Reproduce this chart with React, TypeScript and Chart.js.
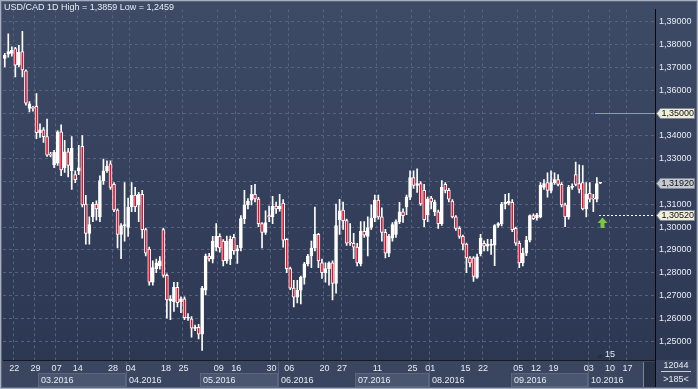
import React, { useEffect, useRef } from 'react';
import { Chart, registerables } from 'chart.js';

Chart.register(...registerables);

const TITLE = 'USD/CAD 1D High = 1,3859 Low = 1,2459';
const SLOT_COUNT = 185;

const OPEN = [
  1.3740, 1.3758, 1.3762, 1.3783, 1.3712, 1.3770, 1.3685, 1.3520, 1.3525, 1.3530,
  1.3414, 1.3427, 1.3397, 1.3320, 1.3273, 1.3280, 1.3418, 1.3260, 1.3330, 1.3247,
  1.3230, 1.3247, 1.3354, 1.3101, 1.2972, 1.3045, 1.3101, 1.3045, 1.3204, 1.3247,
  1.3277, 1.3187, 1.3075, 1.2968, 1.3005, 1.2998, 1.3088, 1.3140, 1.3097, 1.3144,
  1.2989, 1.2903, 1.2758, 1.2818, 1.2830, 1.2989, 1.2788, 1.2677, 1.2673, 1.2736,
  1.2673, 1.2685, 1.2600, 1.2598, 1.2555, 1.2560, 1.2530, 1.2723, 1.2873, 1.2860,
  1.2912, 1.2959, 1.2938, 1.2852, 1.2860, 1.2955, 1.2895, 1.2908, 1.3037, 1.3097,
  1.3118, 1.3144, 1.3123, 1.3015, 1.2977, 1.3050, 1.3045, 1.3092, 1.3080, 1.3105,
  1.2946, 1.2818, 1.2732, 1.2693, 1.2723, 1.2779, 1.2839, 1.2873, 1.2908, 1.2968,
  1.2843, 1.2800, 1.2818, 1.2843, 1.2753, 1.3032, 1.3075, 1.3028, 1.2933, 1.2929,
  1.2912, 1.2839, 1.2981, 1.2959, 1.2998, 1.3041, 1.3118, 1.3045, 1.2977, 1.2886,
  1.2951, 1.2968, 1.3024, 1.3067, 1.3088, 1.3131, 1.3217, 1.3183, 1.3191, 1.3161,
  1.3054, 1.3127, 1.3067, 1.3067, 1.3015, 1.3187, 1.3161, 1.3114, 1.3045, 1.2994,
  1.2959, 1.2925, 1.2865, 1.2865, 1.2779, 1.2882, 1.2929, 1.2916, 1.2920, 1.2921,
  1.3007, 1.3015, 1.3101, 1.3105, 1.3109, 1.2994, 1.2929, 1.2843, 1.2886, 1.2942,
  1.3050, 1.3040, 1.3045, 1.3174, 1.3195, 1.3161, 1.3195, 1.3208, 1.3187, 1.3097,
  1.3045, 1.3174, 1.3230, 1.3191, 1.3195, 1.3080, 1.3148, 1.3127, 1.3122, 1.3192,
];

const HIGH = [
  1.3762, 1.3848, 1.3790, 1.3788, 1.3797, 1.3859, 1.3690, 1.3550, 1.3530, 1.3586,
  1.3453, 1.3436, 1.3474, 1.3328, 1.3337, 1.3423, 1.3448, 1.3380, 1.3345, 1.3397,
  1.3247, 1.3358, 1.3401, 1.3139, 1.3045, 1.3109, 1.3115, 1.3225, 1.3298, 1.3290,
  1.3290, 1.3195, 1.3080, 1.3015, 1.3195, 1.3127, 1.3195, 1.3174, 1.3152, 1.3161,
  1.2995, 1.2912, 1.2852, 1.2860, 1.2870, 1.2995, 1.2795, 1.2700, 1.2758, 1.2758,
  1.2694, 1.2694, 1.2620, 1.2607, 1.2570, 1.2573, 1.2740, 1.2882, 1.2885, 1.2959,
  1.3015, 1.2970, 1.2945, 1.2960, 1.2960, 1.2968, 1.2920, 1.3050, 1.3161, 1.3125,
  1.3183, 1.3187, 1.3130, 1.3020, 1.3071, 1.3092, 1.3135, 1.3110, 1.3144, 1.3120,
  1.2950, 1.2825, 1.2766, 1.2766, 1.2785, 1.2845, 1.2880, 1.2938, 1.3088, 1.2972,
  1.2860, 1.2843, 1.2848, 1.2852, 1.3101, 1.3122, 1.3110, 1.3035, 1.3015, 1.2972,
  1.2929, 1.3024, 1.3024, 1.3045, 1.3097, 1.3140, 1.3140, 1.3084, 1.2990, 1.2968,
  1.3020, 1.3032, 1.3109, 1.3080, 1.3140, 1.3247, 1.3247, 1.3255, 1.3200, 1.3187,
  1.3131, 1.3135, 1.3118, 1.3075, 1.3204, 1.3195, 1.3170, 1.3120, 1.3050, 1.3002,
  1.2965, 1.2930, 1.2870, 1.2870, 1.2882, 1.2968, 1.2940, 1.2946, 1.2946, 1.3011,
  1.3020, 1.3109, 1.3144, 1.3148, 1.3120, 1.3000, 1.2938, 1.2908, 1.2959, 1.3054,
  1.3058, 1.3060, 1.3195, 1.3208, 1.3238, 1.3247, 1.3238, 1.3230, 1.3195, 1.3105,
  1.3183, 1.3190, 1.3285, 1.3273, 1.3270, 1.3195, 1.3195, 1.3144, 1.3217, 1.3195,
];

const LOW = [
  1.3702, 1.3745, 1.3750, 1.3659, 1.3702, 1.3659, 1.3535, 1.3505, 1.3508, 1.3388,
  1.3393, 1.3371, 1.3310, 1.3308, 1.3260, 1.3270, 1.3225, 1.3240, 1.3220, 1.3165,
  1.3195, 1.3230, 1.3088, 1.2925, 1.2925, 1.3024, 1.3030, 1.3024, 1.3187, 1.3240,
  1.3165, 1.3067, 1.2908, 1.2861, 1.2938, 1.2959, 1.3067, 1.3067, 1.3024, 1.2951,
  1.2873, 1.2745, 1.2745, 1.2800, 1.2815, 1.2780, 1.2600, 1.2594, 1.2630, 1.2650,
  1.2625, 1.2594, 1.2590, 1.2517, 1.2545, 1.2509, 1.2459, 1.2702, 1.2850, 1.2843,
  1.2895, 1.2890, 1.2830, 1.2840, 1.2835, 1.2880, 1.2840, 1.2895, 1.3015, 1.3080,
  1.3097, 1.3110, 1.3002, 1.2908, 1.2968, 1.3024, 1.3015, 1.3060, 1.3070, 1.2912,
  1.2800, 1.2725, 1.2650, 1.2667, 1.2663, 1.2749, 1.2830, 1.2822, 1.2895, 1.2822,
  1.2775, 1.2758, 1.2745, 1.2680, 1.2710, 1.2968, 1.2990, 1.2920, 1.2920, 1.2861,
  1.2830, 1.2830, 1.2955, 1.2873, 1.2990, 1.3024, 1.3035, 1.2938, 1.2865, 1.2870,
  1.2938, 1.2955, 1.3015, 1.3020, 1.3054, 1.3120, 1.3170, 1.3152, 1.3095, 1.3002,
  1.3024, 1.3080, 1.3050, 1.2994, 1.3007, 1.3150, 1.3110, 1.3040, 1.2985, 1.2950,
  1.2900, 1.2800, 1.2825, 1.2762, 1.2775, 1.2873, 1.2895, 1.2895, 1.2880, 1.2831,
  1.2998, 1.3005, 1.3080, 1.3097, 1.2980, 1.2920, 1.2822, 1.2830, 1.2875, 1.2935,
  1.3032, 1.3030, 1.3040, 1.3165, 1.3131, 1.3150, 1.3187, 1.3180, 1.3088, 1.3002,
  1.3035, 1.3165, 1.3180, 1.3150, 1.3075, 1.3045, 1.3110, 1.3067, 1.3110, 1.3190,
];

const CLOSE = [
  1.3753, 1.3770, 1.3775, 1.3710, 1.3766, 1.3689, 1.3543, 1.3540, 1.3520, 1.3414,
  1.3427, 1.3397, 1.3315, 1.3315, 1.3328, 1.3418, 1.3251, 1.3330, 1.3270, 1.3345,
  1.3208, 1.3260, 1.3097, 1.2972, 1.3011, 1.3101, 1.3080, 1.3204, 1.3247, 1.3268,
  1.3174, 1.3075, 1.2968, 1.3007, 1.3011, 1.3088, 1.3140, 1.3088, 1.3144, 1.2989,
  1.2886, 1.2758, 1.2822, 1.2843, 1.2852, 1.2788, 1.2680, 1.2685, 1.2736, 1.2668,
  1.2685, 1.2603, 1.2605, 1.2556, 1.2560, 1.2530, 1.2732, 1.2873, 1.2860, 1.2938,
  1.2959, 1.2908, 1.2852, 1.2938, 1.2946, 1.2895, 1.2905, 1.3037, 1.3097, 1.3114,
  1.3144, 1.3123, 1.3015, 1.2977, 1.3020, 1.3045, 1.3092, 1.3080, 1.3092, 1.2942,
  1.2818, 1.2732, 1.2693, 1.2723, 1.2779, 1.2839, 1.2873, 1.2908, 1.2968, 1.2852,
  1.2800, 1.2818, 1.2843, 1.2753, 1.3007, 1.3071, 1.3028, 1.2929, 1.2929, 1.2912,
  1.2843, 1.2981, 1.2964, 1.2998, 1.3041, 1.3118, 1.3045, 1.2977, 1.2886, 1.2959,
  1.3011, 1.3024, 1.3067, 1.3050, 1.3131, 1.3217, 1.3183, 1.3191, 1.3101, 1.3032,
  1.3123, 1.3110, 1.3110, 1.3015, 1.3174, 1.3161, 1.3122, 1.3045, 1.2994, 1.2959,
  1.2925, 1.2865, 1.2843, 1.2783, 1.2869, 1.2951, 1.2916, 1.2925, 1.2925, 1.3007,
  1.3015, 1.3101, 1.3109, 1.3114, 1.2989, 1.2929, 1.2843, 1.2886, 1.2942, 1.3050,
  1.3037, 1.3052, 1.3183, 1.3191, 1.3161, 1.3195, 1.3208, 1.3187, 1.3097, 1.3045,
  1.3174, 1.3180, 1.3187, 1.3165, 1.3080, 1.3144, 1.3122, 1.3122, 1.3191, 1.3192,
];

const DAY_TICK_INDEX = [3, 9, 15, 21, 31, 36, 46, 51, 61, 66, 76, 81, 91, 96, 106, 116, 121, 131, 136, 146, 151, 156, 166, 172, 177];
const DAY_TICK_LABELS = ['22', '29', '07', '14', '28', '04', '18', '25', '09', '16', '30', '06', '20', '27', '11', '25', '01', '15', '22', '05', '12', '19', '03', '10', '17'];
const MONTH_START_INDEX = [10, 35, 56, 78, 100, 121, 144, 166];
const MONTH_LABELS = ['03.2016', '04.2016', '05.2016', '06.2016', '07.2016', '08.2016', '09.2016', '10.2016'];
const Y_TICKS = [1.25, 1.26, 1.27, 1.28, 1.29, 1.3, 1.31, 1.32, 1.33, 1.34, 1.35, 1.36, 1.37, 1.38, 1.39];
const Y_MIN = 1.24169;
const Y_MAX = 1.39547;
const LAST_PRICE = 1.3192;
const ALERT_LEVEL = 1.35;
const SIGNAL_LEVEL = 1.3052;
const BAR_COUNT_TEXT = '12044';
const VISIBLE_TEXT = '>185<';
const MARKER_TEXT = '15';

const FONT = '"Liberation Sans", Arial, sans-serif';
const TEXT = '#e6ecf4';
const GRID = '#56637e';
const RED = '#e3112c';

const fmt = (v: number) => v.toFixed(5).replace('.', ',');

export default function App() {
  const ref = useRef<HTMLCanvasElement | null>(null);

  useEffect(() => {
    document.body.style.margin = '0';
    const canvas = ref.current;
    if (!canvas) return;

    const labels = Array.from({ length: SLOT_COUNT }, (_, i) => {
      const k = DAY_TICK_INDEX.indexOf(i);
      return k >= 0 ? DAY_TICK_LABELS[k] : '';
    });
    const bodies = OPEN.map((o, i) => [Math.min(o, CLOSE[i]), Math.max(o, CLOSE[i])]);
    const wicks = LOW.map((l, i) => [l, HIGH[i]]);
    const bodyColors = OPEN.map((o, i) => (CLOSE[i] >= o ? '#ffffff' : RED));

    const decor = {
      id: 'decor',
      beforeDraw(chart: any) {
        const ctx = chart.ctx as CanvasRenderingContext2D;
        const W = chart.width;
        const H = chart.height;
        const area = chart.chartArea;
        const xs = chart.scales.x;
        const slot = (area.right - area.left) / SLOT_COUNT;
        const edge = (i: number) => xs.getPixelForValue(i) - slot / 2;
        ctx.save();
        ctx.fillStyle = '#3a4660';
        ctx.fillRect(0, 0, W, H);
        const g = ctx.createLinearGradient(0, 0, 0, area.bottom);
        g.addColorStop(0, '#3e4b67');
        g.addColorStop(1, '#2c3752');
        ctx.fillStyle = g;
        ctx.fillRect(0, 0, W, area.bottom);
        const rowTop = area.bottom + 13;
        const rowBot = H - 2;
        ctx.font = `9px ${FONT}`;
        ctx.textBaseline = 'middle';
        ctx.textAlign = 'left';
        MONTH_START_INDEX.forEach((s, k) => {
          const x0 = Math.round(edge(s));
          const x1 = k + 1 < MONTH_START_INDEX.length ? Math.round(edge(MONTH_START_INDEX[k + 1])) : area.right;
          if (k % 2 === 0) {
            ctx.fillStyle = '#4a566f';
            ctx.fillRect(x0, rowTop, x1 - x0, rowBot - rowTop);
            ctx.strokeStyle = '#5b6782';
            ctx.lineWidth = 1;
            ctx.strokeRect(x0 + 0.5, rowTop + 0.5, x1 - x0 - 1, rowBot - rowTop - 1);
          } else {
            ctx.strokeStyle = '#56627c';
            ctx.lineWidth = 1;
            ctx.beginPath();
            ctx.moveTo(x0 + 0.5, area.bottom + 2);
            ctx.lineTo(x0 + 0.5, rowBot);
            ctx.stroke();
          }
          ctx.fillStyle = TEXT;
          ctx.fillText(MONTH_LABELS[k], x0 + 3, (rowTop + rowBot) / 2 + 0.5);
        });
        ctx.restore();
      },
      afterDraw(chart: any) {
        const ctx = chart.ctx as CanvasRenderingContext2D;
        const W = chart.width;
        const H = chart.height;
        const area = chart.chartArea;
        const ys = chart.scales.y;
        ctx.save();
        ctx.font = `9px ${FONT}`;
        ctx.fillStyle = TEXT;
        ctx.textBaseline = 'middle';
        ctx.textAlign = 'left';
        ctx.fillText(TITLE, 4, 8);

        const yA = Math.round(ys.getPixelForValue(ALERT_LEVEL)) + 0.5;
        ctx.strokeStyle = '#88ad66';
        ctx.lineWidth = 1;
        ctx.beginPath();
        ctx.moveTo(595, yA);
        ctx.lineTo(area.right, yA);
        ctx.stroke();

        const yS = Math.round(ys.getPixelForValue(SIGNAL_LEVEL)) + 0.5;
        ctx.strokeStyle = '#ffffff';
        ctx.setLineDash([2, 2]);
        ctx.beginPath();
        ctx.moveTo(599, yS);
        ctx.lineTo(area.right, yS);
        ctx.stroke();
        ctx.setLineDash([]);

        ctx.fillStyle = '#7cc644';
        ctx.beginPath();
        ctx.moveTo(602.5, yS + 2);
        ctx.lineTo(607.5, yS + 7.5);
        ctx.lineTo(604.5, yS + 7.5);
        ctx.lineTo(604.5, yS + 12.5);
        ctx.lineTo(600.5, yS + 12.5);
        ctx.lineTo(600.5, yS + 7.5);
        ctx.lineTo(597.5, yS + 7.5);
        ctx.closePath();
        ctx.fill();

        ctx.fillStyle = '#262d3e';
        ctx.beginPath();
        ctx.moveTo(597, 358);
        ctx.lineTo(600, 354);
        ctx.lineTo(603, 358);
        ctx.closePath();
        ctx.fill();
        ctx.fillStyle = TEXT;
        ctx.fillText(MARKER_TEXT, 605, 355);

        const tag = (v: number, bg: string) => {
          const y = Math.round(ys.getPixelForValue(v)) + 0.5;
          const x0 = 656.5;
          const x1 = 694.5;
          const h = 10;
          ctx.beginPath();
          ctx.moveTo(x0, y);
          ctx.lineTo(x0 + 4, y - h / 2);
          ctx.lineTo(x1, y - h / 2);
          ctx.lineTo(x1, y + h / 2);
          ctx.lineTo(x0 + 4, y + h / 2);
          ctx.closePath();
          ctx.fillStyle = bg;
          ctx.fill();
          ctx.strokeStyle = '#7f8796';
          ctx.lineWidth = 1;
          ctx.stroke();
          ctx.fillStyle = '#111111';
          ctx.textAlign = 'left';
          ctx.fillText(fmt(v), x0 + 5, y + 0.5);
        };
        tag(ALERT_LEVEL, '#efeed9');
        tag(LAST_PRICE, '#c5c9d2');
        tag(SIGNAL_LEVEL, '#efeed9');

        ctx.strokeStyle = '#06080d';
        ctx.beginPath();
        ctx.moveTo(area.right + 0.5, area.bottom);
        ctx.lineTo(area.right + 0.5, H);
        ctx.stroke();

        ctx.fillStyle = TEXT;
        ctx.textAlign = 'center';
        ctx.fillText(BAR_COUNT_TEXT, 676, 366);
        ctx.strokeStyle = '#c9d0dc';
        ctx.beginPath();
        ctx.moveTo(661, 371.5);
        ctx.lineTo(691, 371.5);
        ctx.stroke();
        ctx.fillText(VISIBLE_TEXT, 676, 379.5);

        ctx.fillStyle = '#283248';
        ctx.fillRect(644, area.bottom + 2, area.right - 644, H - area.bottom - 4);
        ctx.strokeStyle = '#7d879b';
        ctx.beginPath();
        ctx.moveTo(643.5, area.bottom + 2);
        ctx.lineTo(643.5, H - 2);
        ctx.stroke();

        ctx.strokeStyle = '#a7afbe';
        ctx.strokeRect(0.5, 0.5, W - 1, H - 1);
        ctx.strokeStyle = '#5d6780';
        ctx.strokeRect(1.5, 1.5, W - 3, H - 3);
        ctx.restore();
      },
    };

    const chart = new Chart(canvas, {
      type: 'bar',
      data: {
        labels,
        datasets: [
          {
            data: bodies as any,
            backgroundColor: bodyColors,
            borderColor: '#ffffff',
            borderWidth: 1,
            borderSkipped: false,
            barThickness: 3,
            grouped: false,
            minBarLength: 1,
            order: 0,
          } as any,
          {
            data: wicks as any,
            backgroundColor: '#ffffff',
            borderWidth: 0,
            barThickness: 1,
            grouped: false,
            order: 1,
          } as any,
        ],
      },
      options: {
        animation: false,
        responsive: false,
        devicePixelRatio: 1,
        layout: { padding: { left: 3, top: 3, right: 0, bottom: 0 } },
        plugins: { legend: { display: false }, tooltip: { enabled: false } },
        scales: {
          x: {
            type: 'category',
            offset: true,
            afterFit: (s: any) => {
              s.height = 29;
            },
            grid: {
              offset: true,
              drawTicks: false,
              lineWidth: 1,
              color: (c: any) => (c.index != null && labels[c.index] ? GRID : 'rgba(0,0,0,0)'),
            },
            border: { display: true, color: '#141924', width: 1, dash: [3, 3] },
            ticks: {
              autoSkip: false,
              maxRotation: 0,
              minRotation: 0,
              padding: 3,
              labelOffset: -1,
              color: TEXT,
              font: { family: FONT, size: 9 },
            },
          },
          y: {
            type: 'linear',
            position: 'right',
            min: Y_MIN,
            max: Y_MAX,
            afterBuildTicks: (s: any) => {
              s.ticks = Y_TICKS.map((v) => ({ value: v }));
            },
            afterFit: (s: any) => {
              s.width = 43;
            },
            grid: { color: GRID, lineWidth: 1, drawTicks: false },
            border: { display: true, color: '#06080d', width: 1, dash: [3, 3] },
            ticks: {
              padding: 4,
              color: TEXT,
              font: { family: FONT, size: 9 },
              callback: (v: any) => fmt(Number(v)),
            },
          },
        },
      } as any,
      plugins: [decor],
    });

    return () => chart.destroy();
  }, []);

  return (
    <div style={{ width: 698, height: 389 }}>
      <canvas ref={ref} width={698} height={389} style={{ display: 'block' }} />
    </div>
  );
}
